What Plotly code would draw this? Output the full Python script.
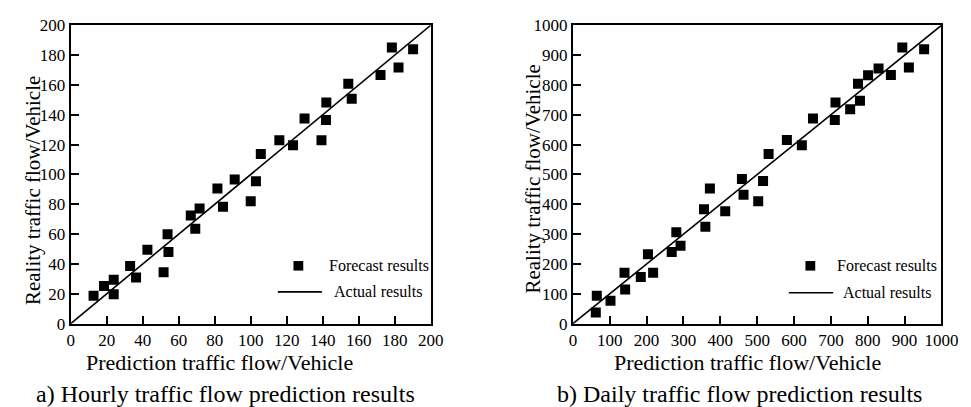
import plotly.graph_objects as go

# ---- data: hourly (panel a) ----
hourly_pred = [12.7, 18.5, 23.9, 23.9, 33.0, 36.3, 42.6, 51.6, 53.8, 54.3, 66.7, 71.6, 69.2,
               81.5, 84.6, 91.1, 102.9, 100.0, 105.6, 115.9, 123.5, 129.9, 139.3, 141.8,
               142.0, 154.2, 156.1, 172.1, 178.4, 182.1, 190.2]
hourly_real = [18.8, 25.2, 29.4, 19.8, 38.6, 31.0, 49.5, 34.5, 59.9, 48.0, 72.5, 77.2, 63.6,
               90.6, 78.3, 96.6, 95.5, 82.1, 113.7, 123.0, 119.6, 137.5, 123.0, 136.5,
               148.2, 160.8, 150.8, 166.7, 185.1, 171.7, 184.0]

# ---- data: daily (panel b) ----
daily_pred = [64.8, 62.1, 102.0, 140.0, 141.8, 184.2, 203.6, 217.7, 268.1, 280.6, 292.0,
              355.7, 359.4, 371.7, 413.3, 463.0, 502.8, 458.6, 516.0, 531.0, 580.6, 621.2,
              651.4, 710.6, 712.5, 752.3, 778.9, 773.5, 800.9, 829.3, 862.8, 893.8, 911.6, 953.0]
daily_real = [94.0, 37.4, 76.7, 170.8, 114.2, 156.7, 232.5, 170.8, 239.8, 306.0, 261.3,
              383.8, 325.2, 453.2, 376.4, 431.7, 410.6, 485.1, 477.8, 568.3, 615.3, 598.0,
              687.6, 682.4, 741.0, 718.6, 747.4, 804.0, 832.7, 855.0, 833.7, 925.5, 858.3, 920.1]

hourly_ticks = [0, 20, 40, 60, 80, 100, 120, 140, 160, 180, 200]
daily_ticks = [0, 100, 200, 300, 400, 500, 600, 700, 800, 900, 1000]
hourly_range = [0, 200]
daily_range = [0, 1000]

x_title = "Prediction traffic flow/Vehicle"
y_title = "Reality traffic flow/Vehicle"
caption_a = "a) Hourly traffic flow prediction results"
caption_b = "b) Daily traffic flow prediction results"
legend_marker = "Forecast results"
legend_line = "Actual results"

W, H = 971, 407
FONT = "Liberation Serif"

def px(x):
    return x / W

def py(y):
    return 1 - y / H

fig = go.Figure()

fig.add_trace(go.Scatter(x=hourly_pred, y=hourly_real, mode="markers",
                         marker=dict(symbol="square", size=10, color="black"),
                         xaxis="x", yaxis="y", showlegend=False))
fig.add_trace(go.Scatter(x=hourly_range, y=hourly_range, mode="lines",
                         line=dict(color="black", width=1.6),
                         xaxis="x", yaxis="y", showlegend=False))
fig.add_trace(go.Scatter(x=daily_pred, y=daily_real, mode="markers",
                         marker=dict(symbol="square", size=10, color="black"),
                         xaxis="x2", yaxis="y2", showlegend=False))
fig.add_trace(go.Scatter(x=daily_range, y=daily_range, mode="lines",
                         line=dict(color="black", width=1.6),
                         xaxis="x2", yaxis="y2", showlegend=False))

axis_common = dict(showgrid=False, zeroline=False, showline=True, linecolor="black",
                   linewidth=2, mirror=True, ticks="inside", ticklen=8, tickwidth=2,
                   tickcolor="black", ticklabeloverflow="allow",
                   tickfont=dict(family=FONT, size=17, color="black"))

top, bottom = 8.7, 321.7
fig.update_layout(
    width=W, height=H,
    margin=dict(l=0, r=0, t=0, b=0),
    paper_bgcolor="white", plot_bgcolor="white",
    font=dict(family=FONT, color="black"),
    xaxis=dict(domain=[px(60), px(428)], range=hourly_range, tickvals=hourly_ticks,
               anchor="y", **axis_common),
    yaxis=dict(domain=[py(bottom), py(top)], range=hourly_range, tickvals=hourly_ticks,
               anchor="x", **axis_common),
    xaxis2=dict(domain=[px(573.3), px(950)], range=daily_range, tickvals=daily_ticks,
                anchor="y2", **axis_common),
    yaxis2=dict(domain=[py(bottom), py(top)], range=daily_range, tickvals=daily_ticks,
                anchor="x2", **axis_common),
)

annotations = []
shapes = []

def add_text(x, y, text, size, xanchor="center", angle=0):
    annotations.append(dict(x=px(x), y=py(y), xref="paper", yref="paper", text=text,
                            showarrow=False, xanchor=xanchor, yanchor="middle",
                            textangle=angle, font=dict(family=FONT, size=size, color="black")))

# panel a texts
add_text(212, 362, x_title, 22)
add_text(218, 395, caption_a, 24)
add_text(21, 182, y_title, 21, angle=-90)
# panel b texts
add_text(752, 362, x_title, 22)
add_text(744, 395, caption_b, 24)
add_text(533, 170, y_title, 21, angle=-90)

# legends
for (mx, my, tx1, lx0, lx1, ly, tx2) in [(292.7, 261, 321.7, 271.7, 316.7, 288.3, 326.7),
                                         (816, 261, 841.7, 794, 839.3, 289.3, 847.3)]:
    shapes.append(dict(type="rect", xref="paper", yref="paper",
                       x0=px(mx - 5), x1=px(mx + 5), y0=py(my + 5), y1=py(my - 5),
                       fillcolor="black", line=dict(width=0)))
    shapes.append(dict(type="line", xref="paper", yref="paper",
                       x0=px(lx0), x1=px(lx1), y0=py(ly), y1=py(ly),
                       line=dict(color="black", width=1.6)))
    add_text(tx1, my, legend_marker, 16, xanchor="left")
    add_text(tx2, ly, legend_line, 16, xanchor="left")

fig.update_layout(annotations=annotations, shapes=shapes)

fig.write_html("out.html")
